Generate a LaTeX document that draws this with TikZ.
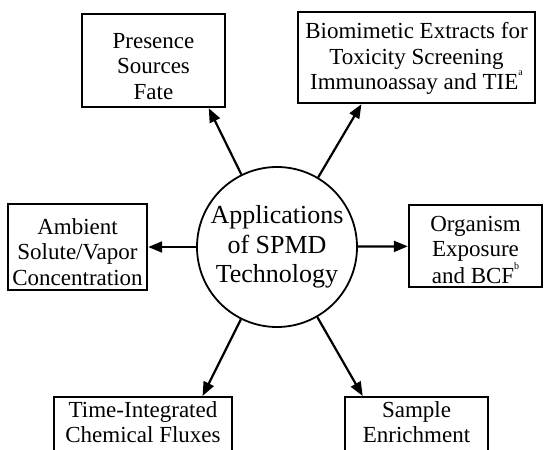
\documentclass[tikz,border=0pt]{standalone}
\usepackage{fontspec}
\setmainfont{Liberation Serif}
\usetikzlibrary{positioning,calc,arrows,arrows.meta}
\tikzset{font=\fontsize{23}{25.5}\selectfont}
\newcommand{\supnote}[1]{\raisebox{0.6em}{\fontsize{10}{10}\selectfont #1}}

\begin{document}
\begin{tikzpicture}[x=1pt, y=-1pt]
	\useasboundingbox (0, 0) rectangle (545, 449);
	\clip (0, 0) rectangle (545, 449);
	\begin{scope}
		\tikzstyle{every node}=[align=center, inner sep=0pt]
		\tikzstyle{box}=[draw, line width=2.4pt, rectangle]
		\tikzstyle{link}=[line width=2.2pt, -{Triangle[length=14pt, width=11pt]}]

		\node[draw, circle, line width=1.8pt, minimum size=160pt,
			font=\fontsize{26}{29.5}\selectfont] (app) at (277, 247)
			{Applications\\of SPMD\\Technology};

		\node[box, minimum width=143pt, minimum height=93pt,
			label={[yshift=-6pt]center:Presence\\Sources\\Fate}] (pres) at (153.5, 60.5) {};
		\node[box, minimum width=237pt, minimum height=91pt,
			label={[yshift=-1pt]center:Biomimetic Extracts for\\Toxicity Screening\\Immunoassay and TIE\supnote{a}}] (bio) at (416.5, 57.5) {};
		\node[box, minimum width=139pt, minimum height=86pt,
			label={[yshift=-5pt]center:Ambient\\Solute/Vapor\\Concentration}] (amb) at (77.5, 247) {};
		\node[box, minimum width=133pt, minimum height=82pt,
			label={[yshift=-4pt]center:Organism\\Exposure\\and BCF\supnote{b}}] (org) at (475.5, 246) {};
		% bottom boxes run past the lower edge
		\node[box, minimum width=178pt, minimum height=72pt, anchor=north,
			label={[anchor=north, yshift=-5pt]north:Time-Integrated\\Chemical Fluxes}] (tif) at (143, 396) {};
		\node[box, minimum width=143pt, minimum height=72pt, anchor=north,
			label={[anchor=north, yshift=-5pt]north:Sample\\Enrichment}] (enr) at (416.5, 396) {};

		\draw[link] (app) -- ($(pres.south west)!0.88!(pres.south east)$);
		\draw[link] (app) -- ($(bio.south west)!0.27!(bio.south east)$);
		\draw[link] (app) -- (amb);
		\draw[link] (app) -- (org);
		\draw[link] (app) -- ($(tif.north west)!0.83!(tif.north east)$);
		\draw[link] (app) -- ($(enr.north west)!0.13!(enr.north east)$);

	\end{scope}
	\end{tikzpicture}
\end{document}
